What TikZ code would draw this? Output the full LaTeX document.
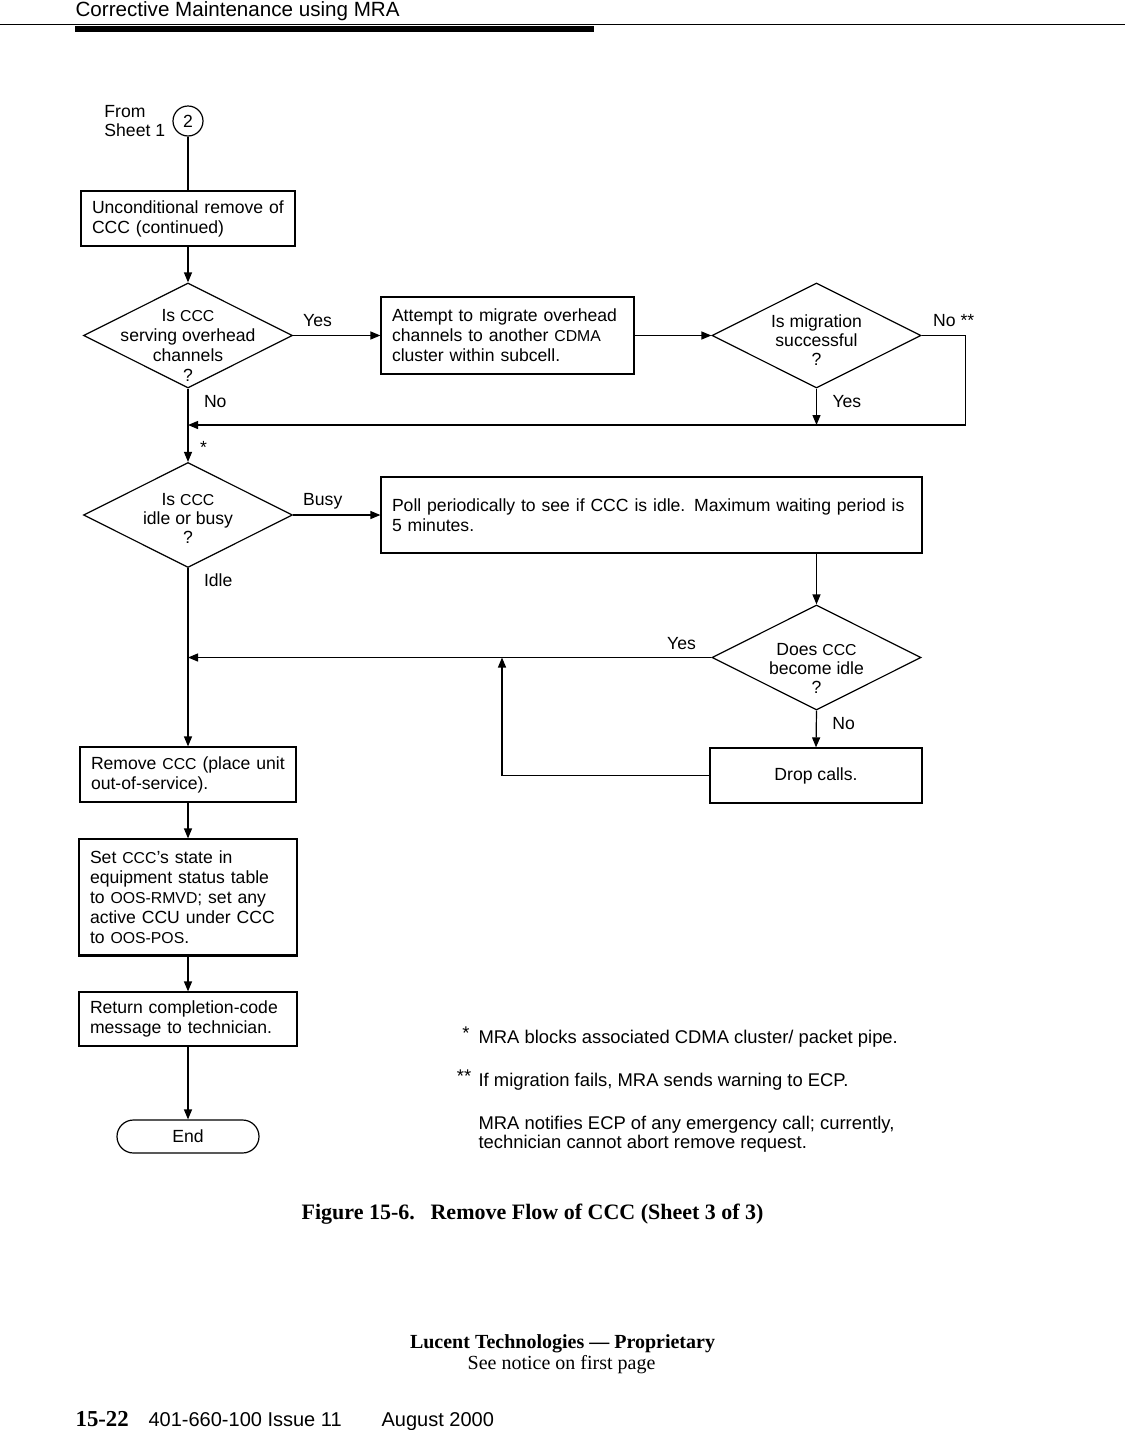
\documentclass[tikz,border=0pt]{standalone}
\usepackage{fontspec}
\setmainfont{Liberation Sans}
\newfontfamily\pagefont{Liberation Serif}
\usetikzlibrary{arrows.meta,graphs,shapes.geometric}
\newcommand\acr[1]{{\fontsize{7.9}{10}\selectfont #1}}

\begin{document}
\begin{tikzpicture}[x=0.5pt,y=-0.5pt,line width=0.6pt,
    >={Triangle[length=5pt,width=4pt]},
    every node/.style={font=\fontsize{8.8}{10}\selectfont},
    box/.style={draw,align=left,inner xsep=5.5pt,inner ysep=0pt},
    ask/.style={draw,diamond,minimum width=104.5pt,minimum height=52.5pt,inner sep=0pt},
    asktext/.style={align=center,inner sep=0pt,font=\fontsize{8.8}{9.5}\selectfont},
    lbl/.style={inner sep=2.7pt},
    note/.style={inner sep=0pt,font=\fontsize{9.2}{9.6}\selectfont}]
      \useasboundingbox (0,0) rectangle (1125,1430);

      \node[anchor=base west,inner sep=0pt,font=\fontsize{10.3}{12}\selectfont] (hd) at (75,16) {Corrective Maintenance using MRA};
      \draw[line width=0.5pt] (0,24) -- (1125,24);
      \fill (75,26) rectangle (594,32);

      \node[draw,circle,minimum size=15pt,inner sep=0pt] (c2) at (188,121) {2};
      \node[anchor=east,align=left,font=\fontsize{8.8}{9.5}\selectfont] (from) at (c2.west) {From\\Sheet 1};

      \node[box,text width=96pt,minimum height=27.5pt] (b1) at (188,218.5) {Unconditional remove of\\CCC (continued)};
      \node[ask] (d1) at (188,335.5) {};
      \node[asktext,font=\fontsize{8.8}{10}\selectfont] (d1t) at (188,345) {Is \acr{CCC}\\serving overhead\\channels\\?};
      \node[box,text width=115.5pt,minimum height=38.5pt] (b2) at (507.5,335.5) {Attempt to migrate overhead\\channels to another \acr{CDMA}\\cluster within subcell.};
      \node[ask] (d2) at (816.5,335.5) {};
      \node[asktext] (d2t) at (816.5,340) {Is migration\\successful\\?};
      \coordinate (m1) at (188,425);

      \node[ask] (d3) at (188,515) {};
      \node[asktext] (d3t) at (188,518.5) {Is \acr{CCC}\\idle or busy\\?};
      \node[box,text width=259.5pt,minimum height=38pt] (b3) at (651.5,515) {Poll periodically to see if CCC is idle. Maximum waiting period is\\5 minutes.};
      \node[ask] (d4) at (816.5,657.5) {};
      \node[asktext] (d4t) at (816.5,668) {Does \acr{CCC}\\become idle\\?};
      \coordinate (m2) at (188,657.5);
      \coordinate (m3) at (502,657.5);
      \node[box,align=center,minimum width=106pt,minimum height=27.5pt] (drop) at (816,775.5) {Drop calls.};

      \node[box,text width=97pt,minimum height=27.5pt] (b4) at (188,774.5) {Remove \acr{CCC} (place unit\\out-of-service).};
      \node[box,text width=98pt,minimum height=58pt] (b5) at (188,897) {Set \acr{CCC}’s state in\\equipment status table\\to \acr{OOS-RMVD}; set any\\active CCU under CCC\\to \acr{OOS-POS}.};
      \node[box,text width=98pt,minimum height=27pt] (b6) at (188,1019) {Return completion-code\\message to technician.};
      \node[draw,rounded corners=8.25pt,minimum width=71pt,minimum height=16.5pt,inner sep=0pt] (fin) at (188,1136.5) {End};
      \draw[line width=1.1pt] (b5.south west) -- (b5.south east);

      \graph[use existing nodes] {
        c2 -- b1 -> d1;
        b2 -> d2;
        b4 -> b5 -> b6 -> fin;
      };

      \draw[->] (d1.east) -- node[lbl,pos=0.28,above=1.5pt] (y1) {Yes} (b2.west);
      \draw[->] (d2.east) -- ++(44,0) node[lbl,pos=0.73,above=1.5pt] (n1) {No **} |- (m1);
      \draw[->] (d2.south) -- node[lbl,pos=0.35,right=5pt] (y2) {Yes} (d2.south |- m1);
      \draw[->] (d1.south) -- node[lbl,pos=0.18,right=5pt] (n2) {No}
        node[lbl,pos=0.8,right=3pt] (st) {*} (d3.north);
      \draw[->] (d3.east) -- node[lbl,pos=0.34,above] (bz) {Busy} (b3.west);
      \draw[->] (b3.south -| d4.north) -- (d4.north);
      \draw[->] (d4.west) -- node[lbl,pos=0.057,above=1pt] (y3) {Yes} (m2);
      \draw[->] (d4.south) -- node[lbl,pos=0.35,right=5pt] (n3) {No} (drop.north);
      \draw[->] (drop.west) -| (m3);
      \draw[->] (d3.south) -- node[lbl,pos=0.067,right=5pt] (il) {Idle} (b4.north);

      \node[note,anchor=west] (f1) at (478,1039) {MRA blocks associated CDMA cluster/ packet pipe.};
      \node[note] (f1s) at (466,1033) {*};
      \node[note,anchor=west] (f2) at (478,1082) {If migration fails, MRA sends warning to ECP.};
      \node[note] (f2s) at (464,1076) {**};
      \node[note,anchor=west,align=left] (f3) at (478,1134.5) {MRA notifies ECP of any emergency call; currently,\\technician cannot abort remove request.};

      \node[anchor=base west,inner sep=0pt,font=\pagefont\bfseries\fontsize{11}{13}\selectfont] (figno) at (301,1219) {Figure 15-6.};
      \node[anchor=base west,inner sep=0pt,font=\pagefont\bfseries\fontsize{11}{13}\selectfont] (cap) at (430,1219) {Remove Flow of CCC (Sheet 3 of 3)};
      \node[anchor=base,inner sep=0pt,font=\pagefont\bfseries\fontsize{10}{12}\selectfont] (prop) at (562.5,1348) {Lucent Technologies — Proprietary};
      \node[anchor=base,inner sep=0pt,font=\pagefont\fontsize{10}{12}\selectfont] (note) at (561.5,1369) {See notice on first page};
      \node[anchor=base west,inner sep=0pt,font=\pagefont\bfseries\fontsize{11.4}{13}\selectfont] (pg) at (75,1426) {15-22};
      \node[anchor=base west,inner sep=0pt,font=\fontsize{10}{12}\selectfont] (iss) at (148,1426) {401-660-100 Issue 11};
      \node[anchor=base west,inner sep=0pt,font=\fontsize{10}{12}\selectfont] (dt) at (381,1426) {August 2000};
  \end{tikzpicture}
\end{document}
